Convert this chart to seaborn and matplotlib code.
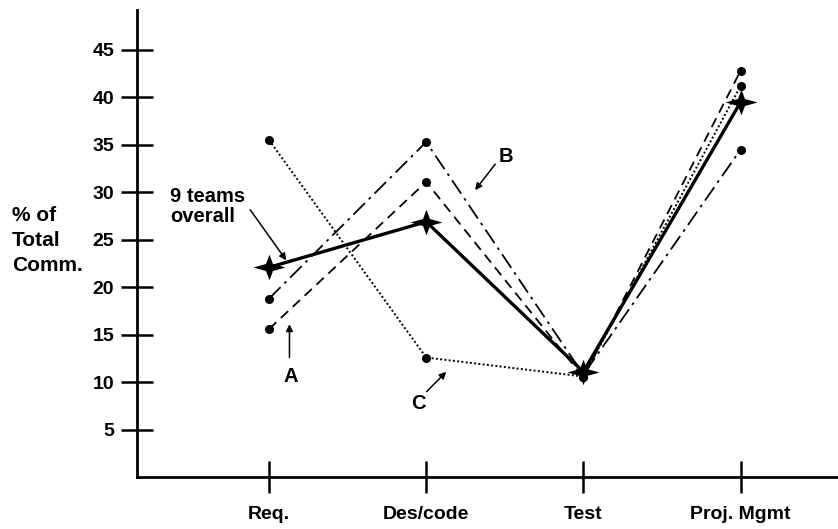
import numpy as np
import pandas as pd
import matplotlib
matplotlib.use('Agg')
import matplotlib.pyplot as plt
from matplotlib.path import Path
import seaborn as sns

# Data
phases = ["Req.", "Des/code", "Test", "Proj. Mgmt"]
team_a = [15.6, 31.1, 10.5, 42.8]
team_b = [18.8, 35.3, 10.8, 34.5]
team_c = [35.5, 12.6, 10.6, 41.2]
overall = [22.1, 26.9, 11.1, 39.5]
y_ticks = [5, 10, 15, 20, 25, 30, 35, 40, 45]

sns.set_style("white")
plt.rcParams['font.family'] = ['Liberation Sans', 'DejaVu Sans']
plt.rcParams['font.weight'] = 'bold'
plt.rcParams['text.color'] = 'black'
plt.rcParams['xtick.color'] = 'black'
plt.rcParams['ytick.color'] = 'black'
plt.rcParams['axes.labelcolor'] = 'black'

# four-point star, wider than tall, with a chunky middle
r = 0.22
star = Path([(1, 0), (r, r), (0, 0.8), (-r, r), (-1, 0), (-r, -r),
             (0, -0.8), (r, -r), (1, 0)],
            [Path.MOVETO] + [Path.LINETO] * 7 + [Path.CLOSEPOLY])

fig = plt.figure(figsize=(8.38, 5.29), dpi=100)
ax = fig.add_axes([0.1635, 0.098, 0.8365, 0.883])

x = np.arange(len(phases))
series = [
    ("A", team_a, (0, (5.5, 3.5)), 'o', 6.5, 1.3),
    ("B", team_b, (0, (9, 3, 1.5, 3)), 'o', 6.5, 1.3),
    ("C", team_c, (0, (1, 1.2)), 'o', 6.5, 1.4),
    ("overall", overall, '-', star, 23, 2.4),
]
for name, vals, ls, mk, ms, lw in series:
    df = pd.DataFrame({"x": x, "y": vals})
    sns.lineplot(data=df, x="x", y="y", ax=ax, color='black', linestyle=ls,
                 linewidth=lw, marker=mk, markersize=ms, markeredgewidth=0,
                 markerfacecolor='black')

ax.set_xlim(-0.84, 3.62)
ax.set_ylim(0, 49.2)
ax.set_xticks(x)
ax.set_xticklabels(phases)
ax.set_yticks(y_ticks)
ax.set_yticklabels([str(t) for t in y_ticks])
ax.tick_params(axis='both', direction='inout', length=23, width=1.8,
               labelsize=14, color='black', labelcolor='black',
               bottom=True, left=True)
ax.tick_params(axis='x', pad=9)
ax.tick_params(axis='y', pad=5)
for lab in ax.get_xticklabels() + ax.get_yticklabels():
    lab.set_fontweight('bold')

for side in ['top', 'right']:
    ax.spines[side].set_visible(False)
for side in ['left', 'bottom']:
    ax.spines[side].set_linewidth(2)
    ax.spines[side].set_color('black')

ax.set_xlabel("")
ax.set_ylabel("% of\nTotal\nComm.", rotation=0, ha='left', va='center',
              fontsize=15, fontweight='bold', linespacing=1.4)
ax.yaxis.set_label_coords(-0.178, 0.507)

arrow = dict(arrowstyle='-|>', color='black', lw=1.1, mutation_scale=10)
ax.text(-0.63, 30.6, "9 teams\noverall", fontsize=14.5, fontweight='bold',
        ha='left', va='top', linespacing=1.1)
ax.annotate("", xy=(0.12, 22.6), xytext=(-0.13, 28.4), arrowprops=arrow)
ax.annotate("", xy=(0.13, 16.4), xytext=(0.13, 12.3), arrowprops=arrow)
ax.text(0.135, 10.6, "A", fontsize=14.5, fontweight='bold', ha='center', va='center')
ax.annotate("", xy=(1.30, 30.0), xytext=(1.45, 33.2), arrowprops=arrow)
ax.text(1.51, 33.8, "B", fontsize=14.5, fontweight='bold', ha='center', va='center')
ax.annotate("", xy=(1.14, 11.3), xytext=(0.99, 8.8), arrowprops=arrow)
ax.text(0.95, 7.8, "C", fontsize=14.5, fontweight='bold', ha='center', va='center')

fig.savefig("out.png", dpi=100)
